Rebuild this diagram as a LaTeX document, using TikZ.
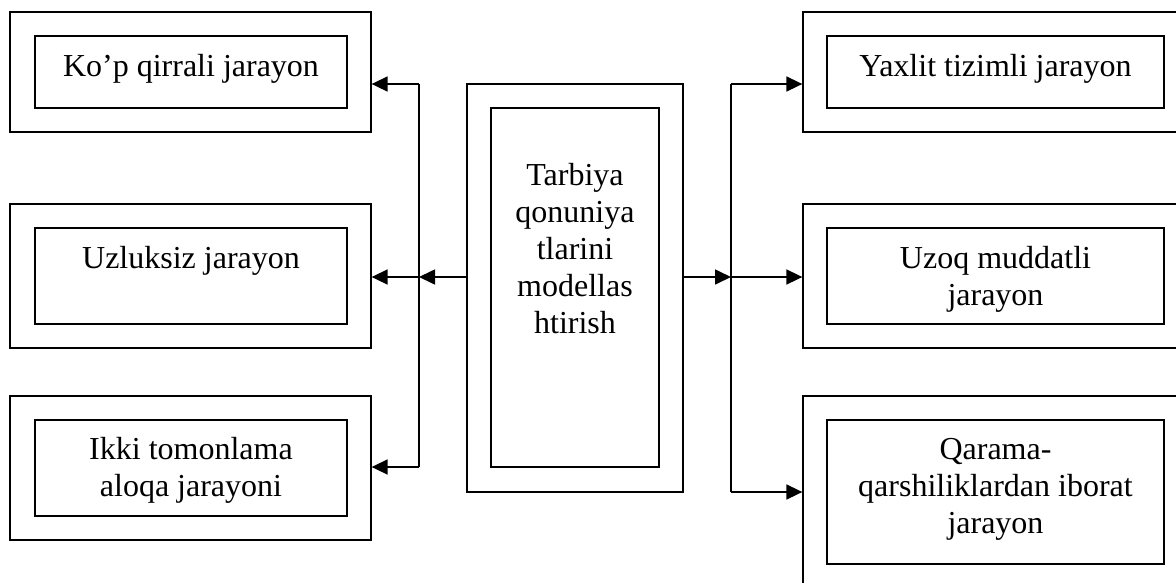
\documentclass[tikz,border=0pt]{standalone}
\usepackage{fontspec}
\setmainfont{Liberation Serif}
\usetikzlibrary{arrows.meta}
\tikzset{
  outerbox/.style={draw, line width=1.3pt, rectangle, inner sep=0pt},
  innerbox/.style={draw, line width=1.3pt, rectangle, inner sep=0pt},
  lbl/.style={anchor=north, inner sep=0pt, align=center, font=\fontsize{32}{37}\selectfont},
  conn/.style={line width=1.7pt},
  arr/.style={line width=1.7pt, -{Triangle[length=16pt,width=15pt]}},
}
\begin{document}
\begin{tikzpicture}[x=1pt,y=-1pt]
\useasboundingbox (0,0) rectangle (1176,582);
\clip (0,0) rectangle (1176,582);
% left outer boxes
\node[outerbox, minimum width=361pt, minimum height=120pt] (ltO) at (190.5,72) {};
\node[outerbox, minimum width=361pt, minimum height=144pt] (lmO) at (190.5,276) {};
\node[outerbox, minimum width=361pt, minimum height=144pt] (lbO) at (190.5,468) {};
% left inner boxes
\node[innerbox, minimum width=312pt, minimum height=72pt] (ltI) at (191,72) {};
\node[innerbox, minimum width=312pt, minimum height=96pt] (lmI) at (191,276) {};
\node[innerbox, minimum width=312pt, minimum height=96pt] (lbI) at (191,468) {};
% center
\node[outerbox, minimum width=216pt, minimum height=408pt] (cO) at (575,288) {};
\node[innerbox, minimum width=168pt, minimum height=359pt] (cI) at (575,287.5) {};
% right outer boxes
\node[outerbox, minimum width=385pt, minimum height=120pt] (rtO) at (995.5,72) {};
\node[outerbox, minimum width=385pt, minimum height=144pt] (rmO) at (995.5,276) {};
\node[outerbox, minimum width=385pt, minimum height=192pt] (rbO) at (995.5,492) {};
% right inner boxes
\node[innerbox, minimum width=337pt, minimum height=72pt] (rtI) at (995.5,72) {};
\node[innerbox, minimum width=337pt, minimum height=96pt] (rmI) at (995.5,276) {};
\node[innerbox, minimum width=337pt, minimum height=144pt] (rbI) at (995.5,492) {};
% texts
\node[lbl] (ltT) at ([yshift=-19pt]ltI.north) {Ko’p qirrali jarayon};
\node[lbl] (lmT) at ([yshift=-19pt]lmI.north) {Uzluksiz jarayon};
\node[lbl] (lbT) at ([yshift=-18pt]lbI.north) {Ikki tomonlama\\aloqa jarayoni};
\node[lbl] (cT) at ([yshift=-56pt]cI.north) {Tarbiya\\qonuniya\\tlarini\\modellas\\htirish};
\node[lbl] (rtT) at ([yshift=-19pt]rtI.north) {Yaxlit tizimli jarayon};
\node[lbl] (rmT) at ([yshift=-19pt]rmI.north) {Uzoq muddatli\\jarayon};
\node[lbl] (rbT) at ([yshift=-19pt]rbI.north) {Qarama-\\qarshiliklardan iborat\\jarayon};
% bus coordinates
\coordinate (lbT) at (419,84);
\coordinate (lbM) at (419,277);
\coordinate (lbB) at (419,467);
\coordinate (rbT) at (731,84);
\coordinate (rbM) at (731,277);
\coordinate (rbB) at (731,492);
% left connectors
\draw[conn] (lbT) -- (lbB);
\draw[arr] (lbT) -- (lbT -| ltO.east);
\draw[arr] (lbM -| cO.west) -- (lbM);
\draw[arr] (lbM) -- (lbM -| lmO.east);
\draw[arr] (lbB) -- (lbB -| lbO.east);
% right connectors
\draw[conn] (rbT) -- (rbB);
\draw[arr] (rbT) -- (rbT -| rtO.west);
\draw[arr] (rbM -| cO.east) -- (rbM);
\draw[arr] (rbM) -- (rbM -| rmO.west);
\draw[arr] (rbB) -- (rbB -| rbO.west);
\end{tikzpicture}
\end{document}
